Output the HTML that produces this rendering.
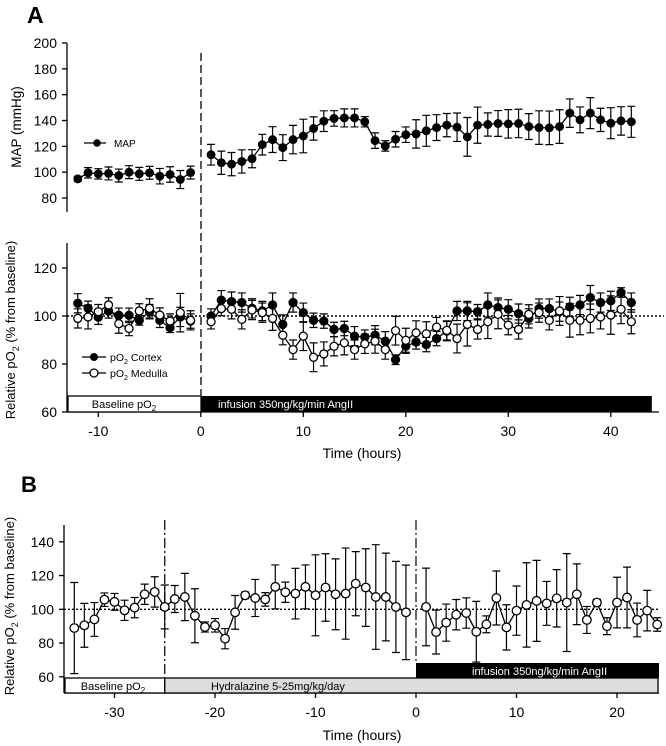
<!DOCTYPE html>
<html><head><meta charset="utf-8"><style>
html,body{margin:0;padding:0;background:#fff;}
svg{display:block;font-family:"Liberation Sans",Arial,sans-serif;}
</style></head><body>
<svg id="chart" width="666" height="746" viewBox="0 0 666 746" xmlns="http://www.w3.org/2000/svg">
<g id="layer"></g>
</svg>
<script>
// ---- Data ----
const mapBaseTimes = [-12,-11,-10,-9,-8,-7,-6,-5,-4,-3,-2,-1];
const mapBaseVals  = [94.8,99.5,98.7,99,97.4,100,98.7,99.5,96.9,98.2,94.3,99.7];
const mapBaseErr   = [2,4,4,5,5,5,5,5,6,6,7,5];
const postTimes = [1,2,3,4,5,6,7,8,9,10,11,12,13,14,15,16,17,18,19,20,21,22,23,24,25,26,27,28,29,30,31,32,33,34,35,36,37,38,39,40,41,42];
const mapPostVals = [113.5,107.3,106.2,108.3,110.4,121.3,125.2,119,125.2,128,133.8,139.5,141.6,142,142,139,124.4,120.3,125.5,129,129.6,132,134.5,136.4,134.8,127.3,136.4,136.9,137.7,137.4,137.7,135.3,134.5,134.3,135.3,145.7,140.5,145.7,140.5,137.9,139.7,139];
const mapPostErr  = [8,9,9,9,7,8,10,10,11,13,9,8,6,7,7,4,6,4,6,6,11,12,10,9,11,15,14,9,10,11,11,10,13,13,13,11,10,12,9,12,11,12];

const cortexBaseVals = [105.3,103.2,99.5,102.1,100.3,100.3,98.2,101.8,98.2,95.1,99.6,97.9];
const cortexBaseErr  = [4,3,3,3,3,3,2,3,3,2,4,3];
const medullaBaseVals = [99,99.6,101.8,104.6,96.8,94.8,102.1,103.2,100.4,97.9,101.4,98.2];
const medullaBaseErr  = [4,5,3,3,4,3,3,4,3,3,8,4];
const cortexPostVals = [100,106.6,106,105.6,103.2,102.1,104.6,96.5,105.6,101.4,98.2,97.9,94.4,94.8,91.6,91.2,92,89.5,81.8,87.4,89.2,88.1,90.6,93.7,102.1,102.1,101.8,104.6,103.5,102.8,101,99,103.1,103.1,101.8,103.8,104.6,107.7,105.6,106.3,109.8,105.6];
const cortexPostErr  = [3,4,4,4,4,4,5,4,4,4,3,3,3,3,4,3,4,4,2,3,3,3,3,4,4,4,3,5,4,4,4,4,4,4,4,4,4,5,4,4,2,4];
const medullaPostVals = [97.6,103.1,102.8,98.6,102.5,101.4,99,92,86,91.6,82.8,84.2,87.4,88.8,86,88.4,89.5,86,93.9,89.9,93,92.6,95.4,94,90.6,96.5,94.4,97.6,100.7,96.2,94.4,100.7,101.4,98.2,102.1,98.2,98.2,99,99.6,100.4,102.8,97.6];
const medullaPostErr  = [3,3,4,4,4,4,5,4,4,6,6,5,4,5,4,4,5,4,6,5,5,5,4,4,6,9,4,7,6,4,4,4,4,4,6,7,6,6,5,8,6,5];

const bTimesPre = [-34,-33,-32,-31,-30,-29,-28,-27,-26,-25,-24,-23,-22,-21,-20,-19,-18,-17,-16,-15,-14,-13,-12,-11,-10,-9,-8,-7,-6,-5,-4,-3,-2,-1];
const bValsPre  = [88.9,90.5,94,105.7,104.4,99.4,101,108.9,110.3,101.4,106.1,107.3,96.2,89.5,90.5,82.6,98.2,108.3,106.7,105.9,113.3,110.1,109.3,113.3,108.3,112.9,108.9,109.3,115.2,112.9,107.3,107.3,101.4,98.2];
const bErrPre   = [27,13,10,4,5,6,6,6,9,13,8,14,16,3,4,6,10,2,11,4,13,6,15,13,24,20,21,27,19,23,31,26,27,28];
const bTimesPost = [1,2,3,4,5,6,7,8,9,10,11,12,13,14,15,16,17,18,19,20,21,22,23,24];
const bValsPost  = [101.4,86.5,92.1,96.8,97.8,86.7,91.1,106.7,89.3,99.2,102.6,105,103.5,106.5,104,108.9,93.7,104,90,104,107,93.7,99.2,91];
const bErrPost   = [23,13,11,9,9,18,5,16,13.4,14.6,25,24,13,17,29,18,8,2,5,15,18,10,12,4];

const xTicksA = [-10,0,10,20,30,40];
const yTicksMap = [80,100,120,140,160,180,200];
const yTicksPo2 = [60,80,100,120];
const xTicksB = [-30,-20,-10,0,10,20];
const yTicksB = [60,80,100,120,140];

// ---- Scales ----
const xA = t => 200.8 + t*10.25;
const yMap = v => 198 - (v-80)*1.2917;
const yPo = v => 412 - (v-60)*2.4;
const xB = t => 416 + t*10.05;
const yB = v => 609.3 - (v-100)*1.6875;

const NS='http://www.w3.org/2000/svg';
const layer=document.getElementById('layer');
function mk(tag, attrs, parent){const e=document.createElementNS(NS,tag);for(const k in attrs)e.setAttribute(k,attrs[k]);(parent||layer).appendChild(e);return e;}
function txt(s,x,y,size,anchor,extra,parent){const e=mk('text',Object.assign({x:x,y:y,'font-size':size,'text-anchor':anchor||'start',fill:'#000'},extra||{}),parent);e.textContent=s;return e;}

function series(name, times, vals, errs, xs, ys, filled, r){
  const g=mk('g',{});
  
  
  for(let i=0;i<times.length;i++){
    const x=xs(times[i]), y1=ys(vals[i]-errs[i]), y2=ys(vals[i]+errs[i]);
    const eb=mk('path',{d:`M${x},${y1}V${y2}M${x-4},${y1}H${x+4}M${x-4},${y2}H${x+4}`,stroke:'#000','stroke-width':1.2,fill:'none'},g);
    
    
  }
  const d=times.map((t,i)=>(i?'L':'M')+xs(t)+','+ys(vals[i])).join('');
  const ln=mk('path',{d:d,stroke:'#000','stroke-width':1.3,fill:'none'},g);
  
  
  for(let i=0;i<times.length;i++){
    const c=mk('circle',{cx:xs(times[i]),cy:ys(vals[i]),r:r,fill:filled?'#000':'#fff',stroke:'#000','stroke-width':1.3},g);
    
    
  }
}

function yAxis(name,x,top,bottom,ticks,ys){
  const g=mk('g',{});
  
  
  mk('line',{x1:x,y1:top,x2:x,y2:bottom,stroke:'#000','stroke-width':1.3},g);
  ticks.forEach(v=>{mk('line',{x1:x-5,y1:ys(v),x2:x,y2:ys(v),stroke:'#000','stroke-width':1.3},g);
    const t=txt(String(v),x-10,ys(v)+5,14,'end',{},g);
    
    });
}
function xAxis(name,y,left,right,ticks,xs){
  const g=mk('g',{});
  
  
  mk('line',{x1:left,y1:y,x2:right,y2:y,stroke:'#000','stroke-width':1.3},g);
  ticks.forEach(v=>{mk('line',{x1:xs(v),y1:y,x2:xs(v),y2:y+5,stroke:'#000','stroke-width':1.3},g);
    const t=txt(String(v),xs(v),y+24,14,'middle',{},g);
    
    });
}

// ---- Panel A ----
txt('A',27,23,23,'start',{'font-weight':'bold',});
yAxis('map-y-axis',67,43,212,yTicksMap,yMap);
txt('MAP (mmHg)',21,127,13.5,'middle',{transform:'rotate(-90 21 127)',});
mk('line',{x1:201,y1:53,x2:201,y2:396,stroke:'#000','stroke-width':1.3,'stroke-dasharray':'8,4',});
series('map-baseline',mapBaseTimes,mapBaseVals,mapBaseErr,xA,yMap,true,3.8);
series('map-infusion',postTimes,mapPostVals,mapPostErr,xA,yMap,true,3.8);
mk('line',{x1:84,y1:143,x2:106,y2:143,stroke:'#000','stroke-width':1.3});
mk('circle',{cx:97,cy:143,r:3.8,fill:'#000',});
txt('MAP',114,147,10,'start',{});

yAxis('po2-y-axis',67,243,412,yTicksPo2,yPo);
xAxis('po2-x-axis',412,67,659,xTicksA,xA);
txt('Time (hours)',362,458,14,'middle',{});
const ttl=mk('text',{x:15,y:330,'font-size':13,'text-anchor':'middle',transform:'rotate(-90 15 330)',});
ttl.innerHTML='Relative pO<tspan font-size="9" dy="4">2</tspan><tspan dy="-4"> (% from baseline)</tspan>';
mk('line',{x1:67,y1:yPo(100),x2:664,y2:yPo(100),stroke:'#000','stroke-width':1.4,'stroke-dasharray':'2,2',});
series('cortex-baseline',mapBaseTimes,cortexBaseVals,cortexBaseErr,xA,yPo,true,4);
series('medulla-baseline',mapBaseTimes,medullaBaseVals,medullaBaseErr,xA,yPo,false,4);
series('cortex-infusion',postTimes,cortexPostVals,cortexPostErr,xA,yPo,true,4);
series('medulla-infusion',postTimes,medullaPostVals,medullaPostErr,xA,yPo,false,4);
mk('line',{x1:82,y1:357,x2:106,y2:357,stroke:'#000','stroke-width':1.3});
mk('circle',{cx:94,cy:357,r:4,fill:'#000',});
mk('line',{x1:82,y1:373,x2:106,y2:373,stroke:'#000','stroke-width':1.3});
mk('circle',{cx:94,cy:373,r:4,fill:'#fff',stroke:'#000','stroke-width':1.3,});
let lt=mk('text',{x:110,y:361,'font-size':10.5,});lt.innerHTML='pO<tspan font-size="7" dy="3">2</tspan><tspan dy="-3"> Cortex</tspan>';
lt=mk('text',{x:110,y:377,'font-size':10.5,});lt.innerHTML='pO<tspan font-size="7" dy="3">2</tspan><tspan dy="-3"> Medulla</tspan>';
mk('rect',{x:68,y:396,width:133,height:16,fill:'#fff',stroke:'#000','stroke-width':1.3,});
lt=mk('text',{x:124,y:408,'font-size':11,'text-anchor':'middle'});lt.innerHTML='Baseline pO<tspan font-size="8" dy="3">2</tspan>';
mk('rect',{x:201,y:396,width:xA(44)-201,height:16,fill:'#000',});
txt('infusion 350ng/kg/min AngII',218,408,11,'start',{fill:'#fff'});

// ---- Panel B ----
txt('B',21,492,22,'start',{'font-weight':'bold',});
yAxis('b-y-axis',64,525,693,yTicksB,yB);
xAxis('b-x-axis',693,64,659,xTicksB,xB);
txt('Time (hours)',362,740,14,'middle',{});
const ttlB=mk('text',{x:14,y:606,'font-size':13,'text-anchor':'middle',transform:'rotate(-90 14 606)',});
ttlB.innerHTML='Relative pO<tspan font-size="9" dy="4">2</tspan><tspan dy="-4"> (% from baseline)</tspan>';
mk('line',{x1:xB(-25),y1:520,x2:xB(-25),y2:678,stroke:'#000','stroke-width':1.2,'stroke-dasharray':'10,3,2,3',});
mk('line',{x1:xB(0),y1:520,x2:xB(0),y2:663,stroke:'#000','stroke-width':1.2,'stroke-dasharray':'10,3,2,3',});
mk('line',{x1:64,y1:yB(100),x2:659,y2:yB(100),stroke:'#000','stroke-width':1.4,'stroke-dasharray':'2,2',});
series('b-pre-infusion',bTimesPre,bValsPre,bErrPre,xB,yB,false,4.3);
series('b-infusion',bTimesPost,bValsPost,bErrPost,xB,yB,false,4.3);
mk('rect',{x:65,y:678,width:xB(-25)-65,height:15,fill:'#fff',stroke:'#000','stroke-width':1.3,});
lt=mk('text',{x:113,y:690,'font-size':11,'text-anchor':'middle'});lt.innerHTML='Baseline pO<tspan font-size="8" dy="3">2</tspan>';
mk('rect',{x:xB(-25),y:678,width:658-xB(-25),height:15,fill:'#ddd',stroke:'#000','stroke-width':1.3,});
txt('Hydralazine 5-25mg/kg/day',211,690,11,'start');
mk('rect',{x:xB(0),y:663,width:659-xB(0),height:15,fill:'#000',});
txt('infusion 350ng/kg/min AngII',472,675,11,'start',{fill:'#fff'});
</script>
</body></html>
